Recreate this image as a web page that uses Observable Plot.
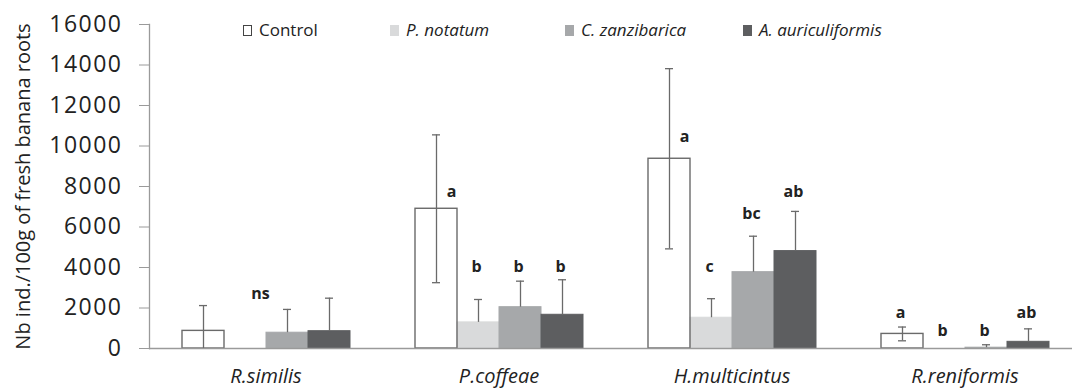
<!DOCTYPE html>
<html><head><meta charset="utf-8">
<script src="https://cdn.jsdelivr.net/npm/d3@7"></script>
<script src="https://cdn.jsdelivr.net/npm/@observablehq/plot@0.6"></script>
<style>
body{margin:0;background:#fff;font-family:"Open Sans",sans-serif;}
#wrap{position:relative;width:1072px;height:389px;overflow:hidden}
.item{position:absolute;top:19px;display:flex;align-items:center;white-space:nowrap;font-size:17px;color:#222;line-height:22px}
.sw{width:9px;height:11px;margin-right:7px;box-sizing:border-box}
.ytl text{letter-spacing:1.5px}
</style></head><body><div id="wrap"></div>
<script>
const groups = ["R.similis", "P.coffeae", "H.multicintus", "R.reniformis"];
const treatments = ["Control", "P. notatum", "C. zanzibarica", "A. auriculiformis"];
const colors = ["#ffffff", "#d9dadb", "#a6a8aa", "#5d5e60"];
const yTicks = [0, 2000, 4000, 6000, 8000, 10000, 12000, 14000, 16000];

// means per treatment, ordered by groups
const controlMean = [870, 6900, 9370, 720];
const notatumMean = [0, 1290, 1520, 0];
const zanzMean = [780, 2040, 3770, 40];
const auricMean = [855, 1665, 4810, 330];
// standard errors
const controlSD = [1250, 3650, 4450, 340];
const notatumSD = [0, 1130, 940, 0];
const zanzSD = [1150, 1285, 1775, 145];
const auricSD = [1630, 1730, 1960, 640];
// significance letters and their heights (data units)
const controlLetter = ["", "a", "a", "a"];
const notatumLetter = ["ns", "b", "c", "b"];
const zanzLetter = ["", "b", "bc", "b"];
const auricLetter = ["", "b", "ab", "ab"];
const controlLetterY = [0, 7720, 10470, 1740];
const notatumLetterY = [2720, 4015, 4015, 850];
const zanzLetterY = [0, 4015, 6650, 850];
const auricLetterY = [0, 4015, 7720, 1740];

const means = [controlMean, notatumMean, zanzMean, auricMean];
const sds = [controlSD, notatumSD, zanzSD, auricSD];
const letters = [controlLetter, notatumLetter, zanzLetter, auricLetter];
const letterYs = [controlLetterY, notatumLetterY, zanzLetterY, auricLetterY];

const data = [];
groups.forEach((g, i) => treatments.forEach((t, j) => {
  data.push({group: g, treatment: t, mean: means[j][i], sd: sds[j][i], letter: letters[j][i], ly: letterYs[j][i]});
}));
const bars = data.filter(d => d.mean > 0);
const errs = data.filter(d => d.sd > 0);
const isControl = d => d.treatment === "Control";
const lower = errs.filter(d => isControl(d) && d.mean - d.sd > 0);
const labs = data.filter(d => d.letter);
const shifted = d => d.letter === "ns" || (isControl(d) && d.ly < d.mean + d.sd);

const ec = "#6a6a6a";
const chart = Plot.plot({
  width: 1072, height: 389,
  marginLeft: 147, marginRight: -10, marginTop: 24, marginBottom: 41,
  style: {fontFamily: "Open Sans, sans-serif", background: "white", overflow: "visible"},
  fx: {domain: groups, padding: 0},
  x: {domain: treatments, paddingInner: 0, paddingOuter: 0.74, axis: null},
  y: {domain: [0, 16000]},
  color: {domain: treatments, range: colors},
  marks: [
    Plot.barY(bars, {fx: "group", x: "treatment", y: "mean", fill: "treatment", stroke: "treatment", strokeWidth: 1}),
    Plot.barY(bars.filter(isControl), {fx: "group", x: "treatment", y: "mean", fill: "none", stroke: ec, strokeWidth: 1.4}),
    Plot.ruleY([0], {stroke: "#9a9a9a", strokeWidth: 1.3}),
    Plot.frame({anchor: "left", facetAnchor: "left", stroke: "#9a9a9a", strokeWidth: 1.3}),
    Plot.ruleX(errs, {fx: "group", x: "treatment", y1: d => isControl(d) ? Math.max(0, d.mean - d.sd) : d.mean, y2: d => d.mean + d.sd, stroke: ec, strokeWidth: 1.3}),
    Plot.tickY(errs, {fx: "group", x: "treatment", y: d => d.mean + d.sd, insetLeft: 17, insetRight: 17, stroke: ec, strokeWidth: 1.3}),
    Plot.tickY(lower, {fx: "group", x: "treatment", y: d => d.mean - d.sd, insetLeft: 17, insetRight: 17, stroke: ec, strokeWidth: 1.3}),
    Plot.text(labs.filter(shifted), {fx: "group", x: "treatment", y: "ly", text: "letter", dx: 15, fontWeight: "bold", fontSize: 16, fill: "#222"}),
    Plot.text(labs.filter(d => !shifted(d)), {fx: "group", x: "treatment", y: "ly", text: "letter", dx: -2, fontWeight: "bold", fontSize: 16, fill: "#222"}),
    Plot.axisY({ticks: yTicks, tickFormat: d => String(d), tickSize: 10, tickPadding: 17, fontSize: 23, color: "#222", stroke: "#9a9a9a", label: null, className: "ytl"}),
    Plot.axisY({ticks: [], label: "Nb ind./100g of fresh banana roots", labelAnchor: "center", labelOffset: 134, labelArrow: "none", fontSize: 20, color: "#222"}),
    Plot.axisFx({anchor: "bottom", tickSize: 0, tickPadding: 20, fontSize: 20, fontStyle: "italic", color: "#222", label: null})
  ]
});
const wrap = document.getElementById("wrap");
wrap.appendChild(chart);

const legendLeft = [243, 390, 565, 743];
treatments.forEach((t, j) => {
  const it = document.createElement("div");
  it.className = "item";
  it.style.left = legendLeft[j] + "px";
  const sw = document.createElement("span");
  sw.className = "sw";
  sw.style.background = colors[j];
  sw.style.border = j === 0 ? "1.3px solid #444" : "none";
  const tx = document.createElement("span");
  tx.textContent = t;
  if (j > 0) tx.style.fontStyle = "italic";
  it.appendChild(sw); it.appendChild(tx);
  wrap.appendChild(it);
});
</script></body></html>
